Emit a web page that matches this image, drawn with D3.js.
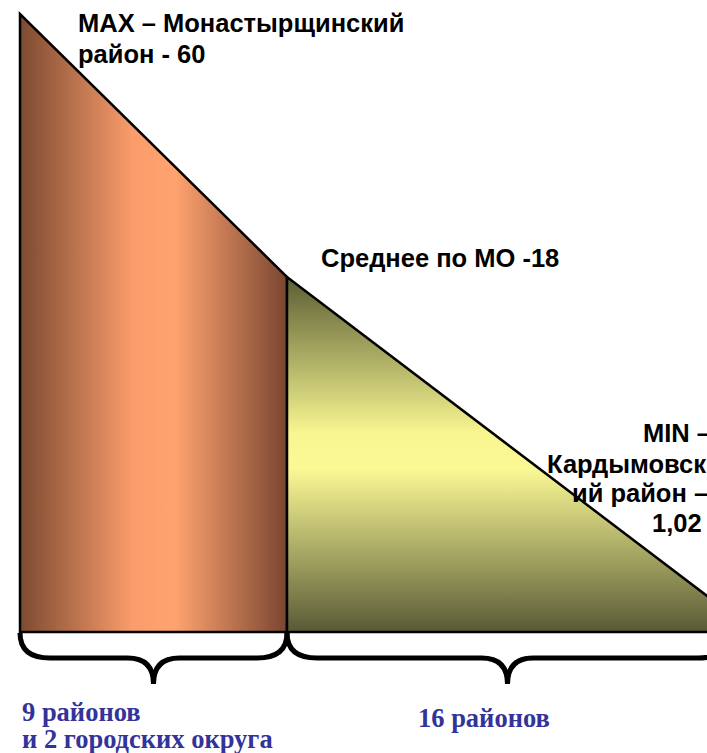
<!DOCTYPE html>
<html>
<head>
<meta charset="utf-8">
<script src="https://cdn.jsdelivr.net/npm/d3@7"></script>
<style>
  body { margin: 0; background: #fff; }
  svg { display: block; }
</style>
</head>
<body>
<svg width="707" height="753"></svg>
<script>
// positions along the ranking (number of municipalities) and values
var ranks = [0, 11, 27];
var values = [60, 18, 1.02];
var groupLabels = [["9 районов", "и 2 городских округа"], ["16 районов"]];
var groupFrom = [0, 11];
var groupTo = [11, 27];

var svg = d3.select("svg");

// schematic scales (picture is not to scale, so piecewise)
var x = d3.scaleLinear().domain([0, 11, 27]).range([20, 287, 728]);
var y = d3.scaleLinear().domain([0, 18, 60]).range([632, 277, 14]);

var defs = svg.append("defs");

var gLeft = defs.append("linearGradient")
  .attr("id", "gradLeft")
  .attr("gradientUnits", "userSpaceOnUse")
  .attr("x1", x(ranks[0])).attr("x2", x(ranks[1]))
  .attr("y1", 0).attr("y2", 0);
gLeft.append("stop").attr("offset", 0).attr("stop-color", "#7c4a31");
gLeft.append("stop").attr("offset", 0.42).attr("stop-color", "#fa9c6b");
gLeft.append("stop").attr("offset", 0.58).attr("stop-color", "#ffa370");
gLeft.append("stop").attr("offset", 1).attr("stop-color", "#7a4631");

var gRight = defs.append("linearGradient")
  .attr("id", "gradRight")
  .attr("gradientUnits", "userSpaceOnUse")
  .attr("x1", 0).attr("x2", 0)
  .attr("y1", y(values[1])).attr("y2", y(0));
gRight.append("stop").attr("offset", 0).attr("stop-color", "#5a5e34");
gRight.append("stop").attr("offset", 0.44).attr("stop-color", "#f8f691");
gRight.append("stop").attr("offset", 0.54).attr("stop-color", "#fbf995");
gRight.append("stop").attr("offset", 1).attr("stop-color", "#585a36");

var line = d3.line().x(function(d){ return x(d[0]); }).y(function(d){ return y(d[1]); });

// left part: from max down to mean
var leftPts = [[ranks[0], 0], [ranks[0], values[0]], [ranks[1], values[1]], [ranks[1], 0]];
svg.append("path")
  .attr("d", line(leftPts) + "Z")
  .attr("fill", "url(#gradLeft)")
  .attr("stroke", "#000")
  .attr("stroke-width", 2.5);

// right part: from mean down to min
var rightPts = [[ranks[1], 0], [ranks[1], values[1]], [ranks[2], values[2]], [ranks[2], 0]];
svg.append("path")
  .attr("d", line(rightPts) + "Z")
  .attr("fill", "url(#gradRight)")
  .attr("stroke", "#000")
  .attr("stroke-width", 2.5);

// curly braces under each group
function brace(x0, x1) {
  var top = y(0) + 1, mid = 658, tip = 684, r = 30, r2 = 26;
  var xm = (x0 + x1) / 2;
  return "M" + x0 + "," + top +
    "Q" + x0 + "," + mid + " " + (x0 + r) + "," + mid +
    "L" + (xm - r2) + "," + mid +
    "Q" + xm + "," + mid + " " + xm + "," + tip +
    "Q" + xm + "," + mid + " " + (xm + r2) + "," + mid +
    "L" + (x1 - r) + "," + mid +
    "Q" + x1 + "," + mid + " " + x1 + "," + top;
}
svg.selectAll("path.brace")
  .data(groupFrom)
  .enter()
  .append("path")
  .classed("brace", true)
  .attr("d", function(d, i){ return brace(x(groupFrom[i]), x(groupTo[i])); })
  .attr("fill", "none")
  .attr("stroke", "#000")
  .attr("stroke-width", 5);

// annotations
var ann = svg.append("g")
  .attr("font-family", "'Liberation Sans', Arial, sans-serif")
  .attr("font-weight", "bold")
  .attr("font-size", 25.5)
  .attr("fill", "#000");

ann.append("text").attr("x", 78).attr("y", 32).text("MAX – Монастырщинский");
ann.append("text").attr("x", 78).attr("y", 63).text("район - " + values[0]);
ann.append("text").attr("x", 321).attr("y", 267).text("Среднее по МО -" + values[1]);

var minLines = ["MIN –", "Кардымовск", "ий район –", String(values[2]).replace(".", ",")];
var minX = [643, 547, 572, 652];
var minY = [442, 473, 502, 532];
ann.selectAll("text.min")
  .data(minLines)
  .enter()
  .append("text")
  .classed("min", true)
  .attr("x", function(d, i){ return minX[i]; })
  .attr("y", function(d, i){ return minY[i]; })
  .text(function(d){ return d; });

// group labels
var lab = svg.append("g")
  .attr("font-family", "'Liberation Serif', 'Times New Roman', serif")
  .attr("font-weight", "bold")
  .attr("font-size", 26.5)
  .attr("fill", "#333399");

lab.append("text").attr("x", 22).attr("y", 721).text(groupLabels[0][0]);
lab.append("text").attr("x", 22).attr("y", 748).text(groupLabels[0][1]);
lab.append("text").attr("x", 418).attr("y", 727).text(groupLabels[1][0]);
</script>
</body>
</html>
